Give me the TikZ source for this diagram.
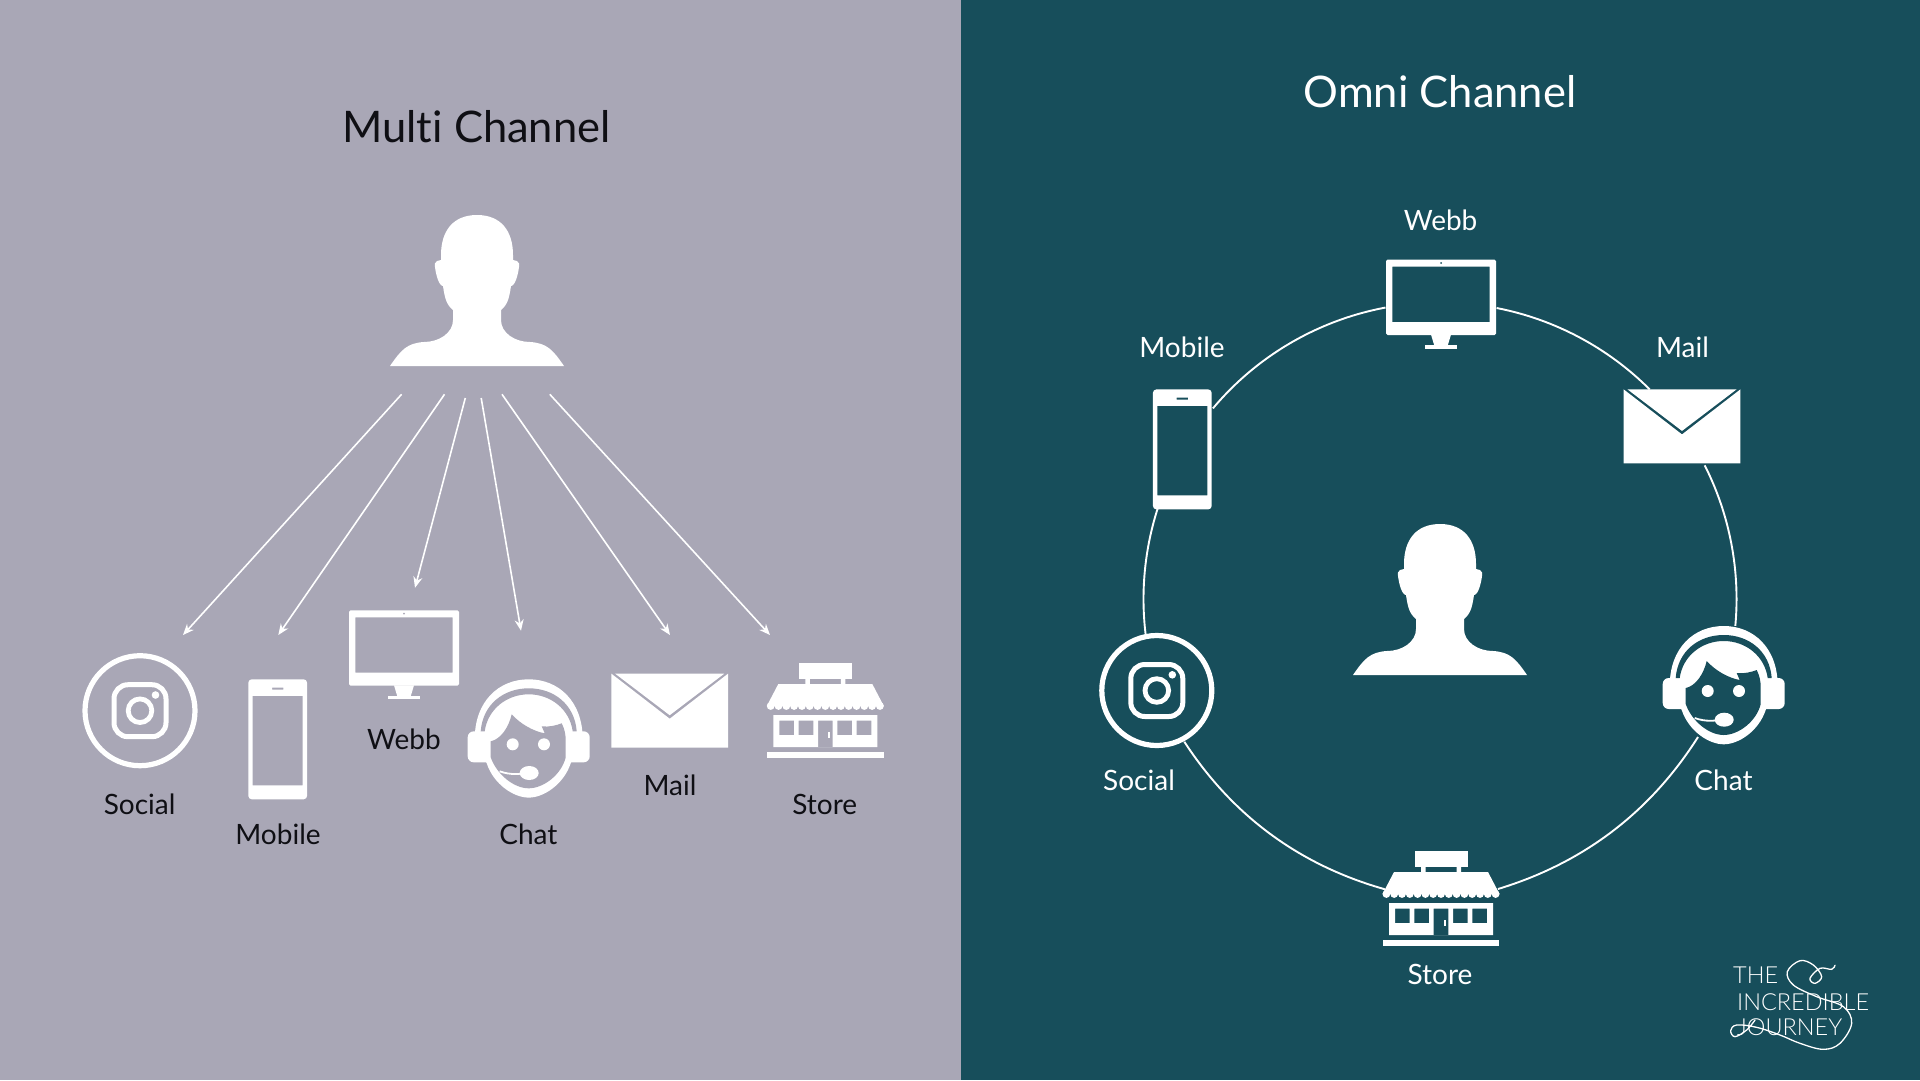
\documentclass[tikz,border=0pt]{standalone}
\usepackage{fontspec}
\setmainfont[Ligatures=NoCommon]{Lato}
\newfontfamily\logofont[Ligatures=NoCommon]{Lato Light}
\usetikzlibrary{arrows.meta}
\definecolor{bgA}{RGB}{169,167,182}
\definecolor{bgB}{RGB}{23,78,91}
\definecolor{inkA}{RGB}{15,15,20}
\tikzset{
  heading/.style={font=\fontsize{43.5}{50}\selectfont,anchor=base},
  label/.style={font=\fontsize{28}{34}\selectfont,anchor=base},
  logotext/.style={font=\logofont\fontsize{23.5}{28}\selectfont,text=white,anchor=base west,inner sep=0pt},
  chanarrow/.style={white,line width=1.6pt,-{Stealth[length=11pt,width=9pt]}},
  ring/.style={white,line width=1.9pt},
  pics/person/.style={code={
    \fill[white] (0,0) .. controls (-24,0) and (-36,16) .. (-36,40) -- (-36,45) -- (-40,46)
      .. controls (-43,47) and (-42,50) .. (-42,52) .. controls (-41,60) and (-38,71) .. (-34,71)
      .. controls (-32,85) and (-30,90) .. (-24,95) -- (-24,105)
      .. controls (-24,118) and (-38,127) .. (-53,127) .. controls (-70,128) and (-76,135) .. (-87,151)
      -- (87,151) .. controls (76,135) and (70,128) .. (53,127) .. controls (38,127) and (24,118) .. (24,105)
      -- (24,95) .. controls (30,90) and (32,85) .. (34,71) .. controls (38,71) and (41,60) .. (42,52)
      .. controls (42,50) and (43,47) .. (40,46) -- (36,45) -- (36,40) .. controls (36,16) and (24,0) .. (0,0) -- cycle;
  }},
  pics/insta/.style={code={
    \draw[white,line width=5.2pt] (0,0) circle[radius=55];
    \draw[white,line width=5pt,rounded corners=14] (-26,-26) rectangle (26,26);
    \draw[white,line width=4.8pt] (0,0) circle[radius=11.8];
    \fill[white] (15.5,-15.7) circle[radius=3.8];
  }},
  pics/phone/.style={code={
    \fill[white,even odd rule,rounded corners=3.5] (-29.4,-60) rectangle (29.4,60)
      [sharp corners] (-25,-43.5) rectangle (25,46) (-5.7,-51.8) rectangle (5.7,-49.8);
  }},
  pics/monitor/.style={code={
    \fill[white,even odd rule,rounded corners=1.5] (-55,0) rectangle (55,75.4)
      [sharp corners] (-48.6,7) rectangle (48.6,62.4);
    \fill[#1] (0,3.4) circle[radius=1];
    \fill[white] (-10,75) -- (10,75) -- (6.7,86) -- (-6.7,86) -- cycle;
    \fill[white] (-16,85.7) rectangle (16,89);
  }},
  pics/mail/.style={code={
    \fill[white] (-54.5,0) -- (54.5,0) -- (0,41.5) -- cycle;
    \fill[white] (-58.3,0) -- (-58.3,74) -- (58.3,74) -- (58.3,0) -- (0,45) -- cycle;
  }},
  pics/store/.style={code={
    \fill[white] (-26.5,0) rectangle (26.5,16);
    \fill[white] (-20,15) rectangle (-15.5,22) (15.5,15) rectangle (20,22);
    \fill[white] (-47,21) -- (47,21) -- (58.5,43) -- (-58.5,43) -- cycle;
    \foreach \k in {0,...,14} \fill[white] ({-54.6+\k*7.8},43) circle[radius=3.9];
    \fill[white,even odd rule] (-52,52) rectangle (52,84)
      (-46,57.7) rectangle (-31.3,72) (-26.7,57.7) rectangle (-12,72)
      (12,57.7) rectangle (26.7,72) (31.3,57.7) rectangle (46,72)
      (-7.3,57.7) rectangle (7.3,84);
    \fill[white] (2.7,68.7) rectangle (5,74.7);
    \fill[white] (-58.4,89.3) rectangle (58.4,95);
  }},
  pics/chat/.style={code={
    \fill[white,rounded corners=6] (-61,52) rectangle (-36,83);
    \fill[white,rounded corners=6] (36,52) rectangle (61,83);
    \fill[white] (-54,60) .. controls (-54,22) and (-30,0) .. (0,0) .. controls (30,0) and (54,22) .. (54,60)
      -- (42,84) .. controls (35,105) and (15,118.3) .. (0,118.3) .. controls (-15,118.3) and (-35,105) .. (-42,84) -- cycle;
    \fill[#1] (-48,52) .. controls (-46,25) and (-25,9) .. (0,9) .. controls (25,9) and (46,25) .. (48,52)
      -- (44,52) .. controls (41,30) and (22,15) .. (0,15) .. controls (-22,15) and (-41,30) .. (-44,52) -- cycle;
    \fill[#1] (-38,62) .. controls (-28,60) and (-20,48) .. (-17,35) .. controls (-8,45) and (5,52) .. (16,54)
      -- (13,47) .. controls (20,48) and (28,46) .. (33,44) .. controls (36,50) and (37,55) .. (37,62)
      -- (37,78) .. controls (33,95) and (15,109) .. (0,109) .. controls (-15,109) and (-32,95) .. (-38,78) -- cycle;
    \fill[white] (-16,65) circle[radius=6] (15.3,65) circle[radius=6];
    \fill[white] (0.5,93.7) ellipse[x radius=9.5,y radius=7];
    \draw[white,line width=1.8pt] (-29,92) .. controls (-18,96) and (-8,95) .. (0,93);
  }}
}
\begin{document}
\begin{tikzpicture}[x=1pt,y=-1pt]
\useasboundingbox (0,0) rectangle (1920,1080);
\fill[bgA] (0,0) rectangle (961,1080);
\fill[bgB] (961,0) rectangle (1920,1080);

% ---------- Multi channel
\node[heading,text=inkA] (mtitle) at (476.5,142) {Multi Channel};
\pic (mperson) at (477,215) {person};
\pic (minsta) at (140,710.7) {insta};
\pic (mphone) at (277.7,739.3) {phone};
\pic (mmon) at (404,610.3) {monitor=bgA};
\pic (mchat) at (528.7,679.3) {chat=bgA};
\pic (mmail) at (669.7,673.7) {mail};
\pic (mstore) at (825.3,663) {store};
\node[label,text=inkA] (lsocial) at (139.6,814) {Social};
\node[label,text=inkA] (lmobile) at (278,844) {Mobile};
\node[label,text=inkA] (lwebb) at (404,749) {Webb};
\node[label,text=inkA] (lchat) at (528.4,844) {Chat};
\node[label,text=inkA] (lmail) at (670,795) {Mail};
\node[label,text=inkA] (lstore) at (824.7,814) {Store};

\coordinate (s1) at (401.6,394.3); \coordinate (e1) at (183,635);
\coordinate (s2) at (444.5,394.3); \coordinate (e2) at (278.3,635);
\coordinate (s3) at (465.3,398);   \coordinate (e3) at (415,587.8);
\coordinate (s4) at (481.2,398);   \coordinate (e4) at (521,630.7);
\coordinate (s5) at (502,394.3);   \coordinate (e5) at (670,635);
\coordinate (s6) at (549.8,394.3); \coordinate (e6) at (770,635);
\foreach \i in {1,...,6} \draw[chanarrow] (s\i) -- (e\i);

% ---------- Omni channel
\node[heading,text=white] (otitle) at (1440,107.5) {Omni Channel};
\coordinate (a1) at (1212.9,408.4);
\coordinate (a2) at (1496.6,308);
\coordinate (a3) at (1704.7,465.3);
\coordinate (a4) at (1698,737);
\coordinate (a4e) at (1498,889);
\coordinate (a5) at (1385,889.3);
\coordinate (a5e) at (1184.3,741.7);
\coordinate (a6) at (1145.9,636.7);
\draw[ring] (a1) arc[start angle=140,end angle=100.6,radius=296.5pt];
\draw[ring] (a2) arc[start angle=79,end angle=45,radius=296.5pt];
\draw[ring] (a3) arc[start angle=26.8,end angle=-5.2,radius=296.5pt];
\draw[ring] (a4) .. controls (1650.1,812.4) and (1583.5,863) .. (a4e);
\draw[ring] (a5e) .. controls (1232.7,816) and (1299.6,865.2) .. (a5);
\draw[ring] (a6) arc[start angle=187.3,end angle=162.2,radius=296.5pt];
\pic (operson) at (1440,524) {person};
\pic (oinsta) at (1156.8,690.5) {insta};
\pic (ophone) at (1182.3,449.4) {phone};
\pic (omon) at (1441,259.6) {monitor=bgB};
\pic (ochat) at (1723.7,626) {chat=bgB};
\pic (omail) at (1682,389.4) {mail};
\pic (ostore) at (1441,851) {store};
\node[label,text=white] (rwebb) at (1440.6,230) {Webb};
\node[label,text=white] (rmobile) at (1182,357.6) {Mobile};
\node[label,text=white] (rmail) at (1682.5,357.6) {Mail};
\node[label,text=white] (rsocial) at (1139,790) {Social};
\node[label,text=white] (rchat) at (1723.5,790) {Chat};
\node[label,text=white] (rstore) at (1440,984) {Store};

% ---------- logo
\node[logotext] (logo1) at (1733,983.3) {THE};
\node[logotext] (logo2) at (1737,1010) {INCREDIBLE};
\node[logotext] (logo3) at (1737,1035) {JOURNEY};
\begin{scope}[shift={(1700,940)},x=0.3333pt,y=-0.3333pt]
\draw[white,line width=1.3pt,line cap=round] plot[smooth,tension=0.6] coordinates {
 (405,76) (395,88) (360,85) (330,115) (345,130) (365,110) (340,75) (300,62) (262,95) (280,135)
 (350,170) (430,200) (455,250) (420,310) (370,328) (300,310) (240,285) (170,262) (110,255) (92,272) (105,290) (140,270) (165,240)};
\end{scope}
\end{tikzpicture}
\end{document}
